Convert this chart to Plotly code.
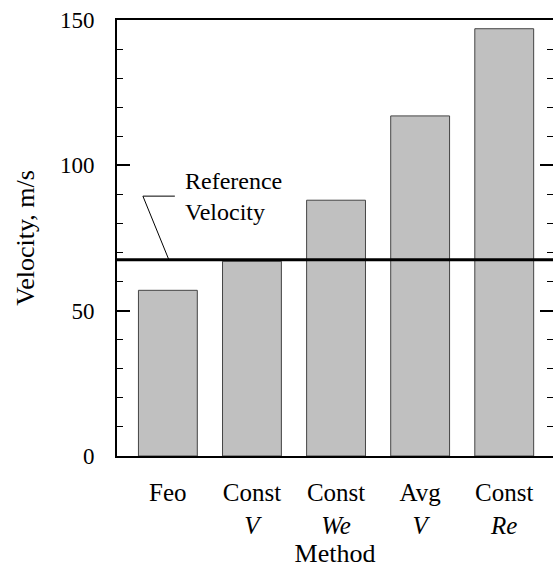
import plotly.graph_objects as go

# Droplet velocity estimated by each method
methods = ["Feo", "Const<br><i>V</i>", "Const<br><i>We</i>", "Avg<br><i>V</i>", "Const<br><i>Re</i>"]
velocity = [57, 67, 88, 117, 147]
reference_velocity = 67.5
y_ticks = [0, 50, 100, 150]

FONT = "Liberation Serif, Times New Roman, serif"
x_pos = list(range(len(methods)))
x_range = [-0.605, 4.58]
y_range = [0, 150]

fig = go.Figure()

fig.add_trace(go.Bar(
    x=x_pos, y=velocity, width=0.7,
    marker=dict(color="#c0c0c0", line=dict(color="#444444", width=1)),
    showlegend=False, hoverinfo="skip",
))

# Reference velocity line across the plot
fig.add_trace(go.Scatter(
    x=x_range, y=[reference_velocity, reference_velocity], mode="lines",
    line=dict(color="black", width=3), showlegend=False, hoverinfo="skip",
    cliponaxis=False,
))

# Leader from the label down to the reference line
fig.add_trace(go.Scatter(
    x=[0.083, -0.297, 0.012], y=[89.4, 89.4, reference_velocity], mode="lines",
    line=dict(color="black", width=1), showlegend=False, hoverinfo="skip",
))

# Invisible trace that carries the mirrored right-hand tick axis
fig.add_trace(go.Scatter(
    x=[0], y=[0], yaxis="y2", mode="markers", marker=dict(opacity=0),
    showlegend=False, hoverinfo="skip",
))

fig.add_annotation(
    x=0.18, y=89.4, xref="x", yref="y", text="Reference<br>Velocity",
    showarrow=False, xanchor="left", yanchor="middle", align="left",
    font=dict(family=FONT, size=24, color="black"),
)

fig.update_layout(
    width=553, height=570,
    margin=dict(l=117, r=0, t=20, b=114),
    paper_bgcolor="white", plot_bgcolor="white",
    font=dict(family=FONT, color="black"),
    bargap=0.3,
    xaxis=dict(
        range=x_range, tickmode="array", tickvals=x_pos, ticktext=methods,
        showgrid=False, zeroline=False, showline=True, linecolor="black",
        linewidth=2, mirror=True, ticks="", ticklabelstandoff=13,
        tickfont=dict(family=FONT, size=25, color="black"),
        title=dict(text="Method", font=dict(family=FONT, size=26, color="black"),
                   standoff=6),
    ),
    yaxis=dict(
        range=y_range, tickvals=y_ticks, showgrid=False, zeroline=False,
        showline=True, linecolor="black", linewidth=2,
        ticks="inside", ticklen=13, tickwidth=2, tickcolor="black",
        minor=dict(dtick=10, ticks="inside", ticklen=6, tickwidth=1,
                   tickcolor="black", showgrid=False),
        ticklabelstandoff=16,
        tickfont=dict(family=FONT, size=23, color="black"),
        title=dict(text="Velocity, m/s", font=dict(family=FONT, size=26, color="black"),
                   standoff=18),
    ),
    yaxis2=dict(
        range=y_range, overlaying="y", side="right", anchor="x",
        tickvals=y_ticks, showticklabels=False, showgrid=False, zeroline=False,
        showline=False, ticks="inside", ticklen=13, tickwidth=2, tickcolor="black",
        minor=dict(dtick=10, ticks="inside", ticklen=6, tickwidth=1,
                   tickcolor="black", showgrid=False),
    ),
)

fig.write_html("out.html")
